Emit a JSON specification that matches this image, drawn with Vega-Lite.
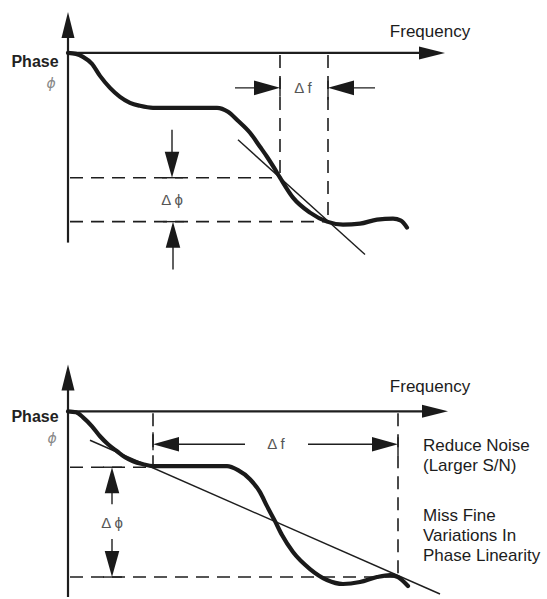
{
  "$schema": "https://vega.github.io/schema/vega-lite/v6.json",
  "width": 547,
  "height": 599,
  "autosize": {"type": "fit", "contains": "padding"},
  "padding": 0,
  "background": "white",
  "config": {"view": {"stroke": null}},
  "datasets": {
    "dashed": [
      {"x": 70, "y": 178, "x2": 280, "y2": 178},
      {"x": 70, "y": 222, "x2": 328, "y2": 222},
      {"x": 280, "y": 55, "x2": 280, "y2": 178},
      {"x": 328, "y": 55, "x2": 328, "y2": 222},
      {"x": 70, "y": 468, "x2": 153, "y2": 468},
      {"x": 70, "y": 578, "x2": 398, "y2": 578},
      {"x": 153, "y": 414, "x2": 153, "y2": 468},
      {"x": 398, "y": 414, "x2": 398, "y2": 578}
    ],
    "solid": [
      {"kind": "axis", "x": 68, "y": 243, "x2": 68, "y2": 30},
      {"kind": "axis", "x": 68, "y": 53, "x2": 425, "y2": 53},
      {"kind": "axis", "x": 68, "y": 598, "x2": 68, "y2": 385},
      {"kind": "axis", "x": 68, "y": 412, "x2": 428, "y2": 412},
      {"kind": "thin", "x": 238, "y": 140, "x2": 365, "y2": 255},
      {"kind": "thin", "x": 235, "y": 88, "x2": 270, "y2": 88},
      {"kind": "thin", "x": 375, "y": 88, "x2": 338, "y2": 88},
      {"kind": "thin", "x": 172, "y": 130, "x2": 172, "y2": 168},
      {"kind": "thin", "x": 173, "y": 270, "x2": 173, "y2": 232},
      {"kind": "thin", "x": 280, "y": 78, "x2": 280, "y2": 97},
      {"kind": "thin", "x": 328, "y": 81, "x2": 328, "y2": 100},
      {"kind": "thin", "x": 162, "y": 178, "x2": 183, "y2": 178},
      {"kind": "thin", "x": 163, "y": 222, "x2": 184, "y2": 222},
      {"kind": "thin", "x": 90, "y": 441, "x2": 440, "y2": 595},
      {"kind": "thin", "x": 245, "y": 445, "x2": 163, "y2": 445},
      {"kind": "thin", "x": 308, "y": 445, "x2": 388, "y2": 445},
      {"kind": "thin", "x": 112, "y": 505, "x2": 112, "y2": 478},
      {"kind": "thin", "x": 112, "y": 540, "x2": 112, "y2": 568},
      {"kind": "thin", "x": 153, "y": 433, "x2": 153, "y2": 451},
      {"kind": "thin", "x": 398, "y": 438, "x2": 398, "y2": 456},
      {"kind": "thin", "x": 103, "y": 468, "x2": 122, "y2": 468},
      {"kind": "thin", "x": 103, "y": 578, "x2": 122, "y2": 578}
    ],
    "curves": [
      {"panel": "top", "x": 68, "y": 53}, {"panel": "top", "x": 76, "y": 54}, {"panel": "top", "x": 83, "y": 57},
      {"panel": "top", "x": 92, "y": 64}, {"panel": "top", "x": 100, "y": 76}, {"panel": "top", "x": 110, "y": 88},
      {"panel": "top", "x": 120, "y": 97}, {"panel": "top", "x": 130, "y": 103}, {"panel": "top", "x": 140, "y": 106},
      {"panel": "top", "x": 153, "y": 108}, {"panel": "top", "x": 185, "y": 108}, {"panel": "top", "x": 217, "y": 108},
      {"panel": "top", "x": 228, "y": 112}, {"panel": "top", "x": 238, "y": 121}, {"panel": "top", "x": 250, "y": 133},
      {"panel": "top", "x": 260, "y": 147}, {"panel": "top", "x": 267, "y": 157}, {"panel": "top", "x": 274, "y": 168},
      {"panel": "top", "x": 280, "y": 178}, {"panel": "top", "x": 293, "y": 198}, {"panel": "top", "x": 310, "y": 213},
      {"panel": "top", "x": 327, "y": 222}, {"panel": "top", "x": 343, "y": 225}, {"panel": "top", "x": 360, "y": 224},
      {"panel": "top", "x": 377, "y": 220}, {"panel": "top", "x": 393, "y": 219}, {"panel": "top", "x": 401, "y": 221},
      {"panel": "top", "x": 407, "y": 228},
      {"panel": "bottom", "x": 68, "y": 412}, {"panel": "bottom", "x": 76, "y": 413}, {"panel": "bottom", "x": 83, "y": 418},
      {"panel": "bottom", "x": 92, "y": 427}, {"panel": "bottom", "x": 100, "y": 437}, {"panel": "bottom", "x": 108, "y": 445},
      {"panel": "bottom", "x": 117, "y": 452}, {"panel": "bottom", "x": 125, "y": 458}, {"panel": "bottom", "x": 133, "y": 462},
      {"panel": "bottom", "x": 143, "y": 465}, {"panel": "bottom", "x": 153, "y": 467}, {"panel": "bottom", "x": 190, "y": 467},
      {"panel": "bottom", "x": 227, "y": 467}, {"panel": "bottom", "x": 238, "y": 471}, {"panel": "bottom", "x": 250, "y": 480},
      {"panel": "bottom", "x": 260, "y": 493}, {"panel": "bottom", "x": 267, "y": 507}, {"panel": "bottom", "x": 275, "y": 522},
      {"panel": "bottom", "x": 282, "y": 536}, {"panel": "bottom", "x": 293, "y": 553}, {"panel": "bottom", "x": 310, "y": 570},
      {"panel": "bottom", "x": 327, "y": 581}, {"panel": "bottom", "x": 343, "y": 585}, {"panel": "bottom", "x": 360, "y": 583},
      {"panel": "bottom", "x": 377, "y": 578}, {"panel": "bottom", "x": 390, "y": 576}, {"panel": "bottom", "x": 398, "y": 578},
      {"panel": "bottom", "x": 403, "y": 582}, {"panel": "bottom", "x": 408, "y": 587}
    ],
    "arrows": [
      {"dir": "axis-up", "x": 68, "y": 12},
      {"dir": "axis-right", "x": 445, "y": 53},
      {"dir": "axis-up", "x": 68, "y": 365},
      {"dir": "axis-right", "x": 448, "y": 412},
      {"dir": "right", "x": 280, "y": 88},
      {"dir": "left", "x": 328, "y": 88},
      {"dir": "down", "x": 172, "y": 178},
      {"dir": "up", "x": 173, "y": 222},
      {"dir": "left", "x": 153, "y": 445},
      {"dir": "right", "x": 398, "y": 445},
      {"dir": "up", "x": 112, "y": 468},
      {"dir": "down", "x": 112, "y": 578}
    ],
    "labels": [
      {"role": "title", "x": 430, "y": 32, "text": "Frequency"},
      {"role": "title", "x": 430, "y": 388, "text": "Frequency"},
      {"role": "phase", "x": 35, "y": 62, "text": "Phase"},
      {"role": "phase", "x": 35, "y": 418, "text": "Phase"},
      {"role": "phi", "x": 51, "y": 84, "text": "ϕ"},
      {"role": "phi", "x": 52, "y": 440, "text": "ϕ"},
      {"role": "delta", "x": 303, "y": 88, "text": "Δ f"},
      {"role": "delta", "x": 172, "y": 200, "text": "Δ ϕ"},
      {"role": "delta", "x": 276, "y": 445, "text": "Δ f"},
      {"role": "delta", "x": 112, "y": 524, "text": "Δ ϕ"},
      {"role": "note", "x": 423, "y": 447, "text": "Reduce Noise"},
      {"role": "note", "x": 423, "y": 467, "text": "(Larger S/N)"},
      {"role": "note", "x": 423, "y": 517, "text": "Miss Fine"},
      {"role": "note", "x": 423, "y": 537, "text": "Variations In"},
      {"role": "note", "x": 423, "y": 557, "text": "Phase Linearity"}
    ]
  },
  "encoding": {
    "x": {"field": "x", "type": "quantitative", "scale": {"domain": [0, 547], "nice": false, "zero": false}, "axis": null},
    "y": {"field": "y", "type": "quantitative", "scale": {"domain": [0, 599], "nice": false, "zero": false, "reverse": true}, "axis": null}
  },
  "layer": [
    {
      "data": {"name": "dashed"},
      "mark": {"type": "rule", "color": "#1e1e1e", "strokeWidth": 1.6, "strokeDash": [13, 8]},
      "encoding": {"x2": {"field": "x2"}, "y2": {"field": "y2"}}
    },
    {
      "data": {"name": "solid"},
      "mark": {"type": "rule", "color": "#1e1e1e"},
      "encoding": {
        "x2": {"field": "x2"},
        "y2": {"field": "y2"},
        "strokeWidth": {"field": "kind", "type": "nominal", "scale": {"domain": ["axis", "thin"], "range": [2.2, 1.4]}, "legend": null}
      }
    },
    {
      "data": {"name": "curves"},
      "mark": {"type": "line", "color": "#1a1a1a", "strokeWidth": 4.2, "interpolate": "monotone", "strokeCap": "round"},
      "encoding": {"detail": {"field": "panel", "type": "nominal"}, "order": {"field": "x", "type": "quantitative"}}
    },
    {
      "data": {"name": "arrows"},
      "mark": {"type": "point", "filled": true, "color": "#1a1a1a", "opacity": 1, "strokeWidth": 0},
      "encoding": {
        "shape": {"field": "dir", "type": "nominal", "legend": null, "scale": {
          "domain": ["axis-up", "axis-right", "up", "down", "left", "right"],
          "range": ["M0,0L0.25,1L-0.25,1Z", "M0,0L-1,0.25L-1,-0.25Z", "M0,0L0.28,1L-0.28,1Z", "M0,0L0.28,-1L-0.28,-1Z", "M0,0L1,0.28L1,-0.28Z", "M0,0L-1,0.28L-1,-0.28Z"]
        }},
        "size": {"field": "dir", "type": "nominal", "legend": null, "scale": {
          "domain": ["axis-up", "axis-right", "up", "down", "left", "right"],
          "range": [2704, 2704, 1000, 1000, 1000, 1000]
        }}
      }
    },
    {
      "data": {"name": "labels"},
      "transform": [{"filter": "datum.role === 'title'"}],
      "mark": {"type": "text", "font": "Liberation Sans", "fontSize": 17, "color": "#1c1c1c", "baseline": "middle", "align": "center"},
      "encoding": {"text": {"field": "text"}}
    },
    {
      "data": {"name": "labels"},
      "transform": [{"filter": "datum.role === 'note'"}],
      "mark": {"type": "text", "font": "Liberation Sans", "fontSize": 17, "color": "#1c1c1c", "baseline": "middle", "align": "left"},
      "encoding": {"text": {"field": "text"}}
    },
    {
      "data": {"name": "labels"},
      "transform": [{"filter": "datum.role === 'phase'"}],
      "mark": {"type": "text", "font": "Liberation Sans", "fontSize": 16, "fontWeight": "bold", "color": "#222222", "baseline": "middle", "align": "center"},
      "encoding": {"text": {"field": "text"}}
    },
    {
      "data": {"name": "labels"},
      "transform": [{"filter": "datum.role === 'phi'"}],
      "mark": {"type": "text", "font": "DejaVu Sans", "fontSize": 14, "fontStyle": "italic", "color": "#888888", "baseline": "middle", "align": "center"},
      "encoding": {"text": {"field": "text"}}
    },
    {
      "data": {"name": "labels"},
      "transform": [{"filter": "datum.role === 'delta'"}],
      "mark": {"type": "text", "font": "Liberation Sans", "fontSize": 15, "color": "#555555", "baseline": "middle", "align": "center"},
      "encoding": {"text": {"field": "text"}}
    }
  ]
}
